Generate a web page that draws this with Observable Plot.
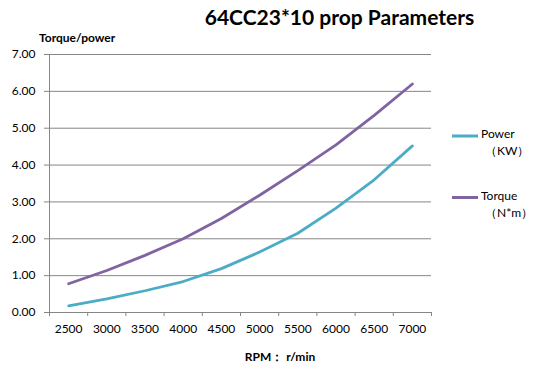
<!DOCTYPE html>
<html>
<head>
<meta charset="utf-8">
<script src="https://cdn.jsdelivr.net/npm/d3@7"></script>
<script src="https://cdn.jsdelivr.net/npm/@observablehq/plot@0.6"></script>
<style>
  html, body { margin: 0; padding: 0; background: #fff; }
  #wrap { position: relative; width: 551px; height: 374px; overflow: hidden; background: #fff; }
  #wrap svg.overlay { position: absolute; left: 0; top: 0; pointer-events: none; }
</style>
</head>
<body>
<div id="wrap"></div>
<script>
// ---- data ----
const rpm = [2500, 3000, 3500, 4000, 4500, 5000, 5500, 6000, 6500, 7000];
const power = [0.18, 0.37, 0.59, 0.84, 1.19, 1.64, 2.15, 2.83, 3.60, 4.52];
const torque = [0.78, 1.14, 1.55, 2.00, 2.55, 3.18, 3.85, 4.55, 5.35, 6.20];
const yTicks = [0, 1, 2, 3, 4, 5, 6, 7];
const xBounds = [2250, 2750, 3250, 3750, 4250, 4750, 5250, 5750, 6250, 6750, 7250];
const titleText = "64CC23*10 prop Parameters";
const yTitle = "Torque/power";
const xTitle = "RPM\uFF1A r/min";
const seriesNames = ["Power", "Torque"];
const seriesUnits = ["\uFF08KW\uFF09", "\uFF08N*m\uFF09"];
const colors = ["#4BACC6", "#8064A2"];

const rows = rpm.map((r, i) => ({rpm: r, power: power[i], torque: torque[i]}));
const font = "Lato, 'Open Sans', sans-serif";
const grid = "#868686";

const chart = Plot.plot({
  width: 551,
  height: 374,
  marginTop: 54,
  marginBottom: 62,
  marginLeft: 49,
  marginRight: 120,
  style: {fontFamily: font, fontSize: "12px", color: "#000", background: "#fff", overflow: "visible"},
  x: {domain: [xBounds[0], xBounds[xBounds.length - 1]]},
  y: {domain: [yTicks[0], yTicks[yTicks.length - 1]]},
  marks: [
    Plot.ruleY(yTicks, {stroke: grid, strokeWidth: 1}),
    Plot.ruleX([xBounds[0]], {stroke: grid, strokeWidth: 1}),
    Plot.axisY({ticks: yTicks, tickFormat: d => d.toFixed(2), tickSize: 5, tickPadding: 9, stroke: grid, fill: "#000", label: null}),
    Plot.axisX({ticks: xBounds, tickFormat: () => "", tickSize: 4, stroke: grid, label: null}),
    Plot.axisX({ticks: rpm, tickFormat: d => String(d), tickSize: 0, tickPadding: 12, fill: "#000", label: null}),
    Plot.line(rows, {x: "rpm", y: "power", stroke: colors[0], strokeWidth: 2.8}),
    Plot.line(rows, {x: "rpm", y: "torque", stroke: colors[1], strokeWidth: 2.8})
  ]
});

const wrap = document.getElementById("wrap");
wrap.appendChild(chart);

// overlay texts: title, axis titles, legend
const ov = d3.select(wrap).append("svg")
  .attr("class", "overlay").attr("width", 551).attr("height", 374)
  .style("font-family", font);

ov.append("text").attr("x", 339.5).attr("y", 25).attr("text-anchor", "middle")
  .attr("font-weight", "bold").attr("font-size", 21).text(titleText);
ov.append("text").attr("x", 39).attr("y", 41.5)
  .attr("font-weight", "bold").attr("font-size", 12).text(yTitle);
ov.append("text").attr("x", 280).attr("y", 361).attr("text-anchor", "middle")
  .attr("font-weight", "bold").attr("font-size", 12).text(xTitle);

const legY = [136, 197.5];
seriesNames.forEach((name, i) => {
  ov.append("line").attr("x1", 452).attr("x2", 478).attr("y1", legY[i]).attr("y2", legY[i])
    .attr("stroke", colors[i]).attr("stroke-width", 3);
  ov.append("text").attr("x", 481).attr("y", legY[i] + 2).attr("font-size", 12).text(name);
  ov.append("text").attr("x", 485).attr("y", legY[i] + 19).attr("font-size", 12).text(seriesUnits[i]);
});
</script>
</body>
</html>
